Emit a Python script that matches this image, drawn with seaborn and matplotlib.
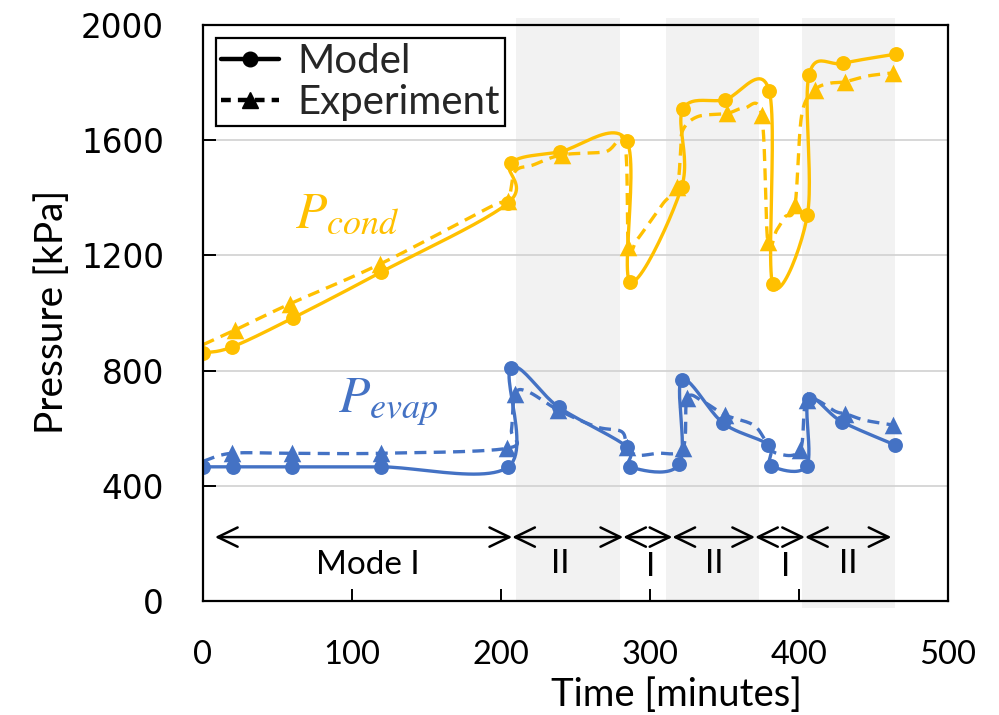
import numpy as np
import pandas as pd
import matplotlib
matplotlib.use("Agg")
import matplotlib.pyplot as plt
import seaborn as sns
from matplotlib.lines import Line2D

# ---------------- data ----------------
cond_model_t = [0, 19.5, 60.4, 119.5, 204.7, 206.5, 239.6, 284.4, 286.6, 321.3, 322, 350, 380, 382.3, 405.6, 406.7, 429.8, 464.9]
cond_model_p = [861, 882, 983, 1142, 1382, 1520, 1560, 1598, 1109, 1439, 1707, 1740, 1771, 1100, 1340, 1826, 1867, 1899]

evap_model_t = [0, 20, 59.5, 119.3, 205, 206.5, 239, 284.4, 286.6, 319.7, 321.3, 349.2, 379.4, 381.2, 405.2, 406.5, 428.6, 464.4]
evap_model_p = [466, 466, 466, 466, 466, 808, 672, 536, 466, 476, 767, 617, 542, 470, 470, 700, 623, 542]

cond_exp_t = [0, 21.5, 58.4, 118.8, 192.6, 204.5, 209.4, 221.5, 240.7, 270, 283, 285.5, 291, 300, 309, 318, 320.5, 322, 332,
              351.5, 363, 374.9, 379, 385, 390.6, 397.3, 401.8, 410.7, 420, 430.9, 446, 463.3]
cond_exp_p = [890, 941, 1032, 1170, 1368, 1390, 1491, 1514, 1549, 1560, 1590, 1230, 1253, 1317, 1382, 1439, 1556, 1635, 1682,
              1693, 1711, 1687, 1248, 1288, 1334, 1375, 1688, 1774, 1797, 1803, 1823, 1834]
cond_exp_marked = [1, 2, 3, 5, 8, 11, 15, 19, 21, 22, 25, 27, 29, 31]

evap_exp_t = [0, 19.2, 59.5, 119.3, 203.8, 207, 209.4, 218, 238.5, 264, 281, 284.4, 291, 304.5, 322, 325, 335.8, 350.3,
              369.4, 378, 385, 400.7, 405.6, 425, 430.9, 444, 463.3]
evap_exp_p = [485, 513, 513, 513, 530, 594, 718, 727, 663, 605, 588, 536, 507, 513, 530, 704, 692, 646,
              611, 553, 513, 524, 698, 657, 651, 628, 611]
evap_exp_marked = [1, 2, 3, 4, 6, 8, 11, 14, 15, 17, 21, 22, 24, 26]

mode_bands = [(210, 280), (311, 373), (402, 464.5)]
mode_arrows = [(8, 207.5), (207.5, 282), (282, 315), (315, 370.5), (370.5, 404), (404, 462)]
mode_labels = ["Mode I", "II", "I", "II", "I", "II"]
mode_label_t = [110.7, 239.6, 300.7, 343, 391, 433]
mode_label_p = [125, 127, 118, 127, 118, 130]

xticks = [0, 100, 200, 300, 400, 500]
yticks = [0, 400, 800, 1200, 1600, 2000]

COND = "#FFC000"
EVAP = "#4472C4"

# ---------------- style ----------------
sns.set_theme(style="white")
plt.rcParams["font.family"] = ["Lato", "DejaVu Sans"]
plt.rcParams["mathtext.fontset"] = "stix"

W, H, DPI = 9.99, 7.15, 100
L, R, B, T = 0.2032, 0.949, 0.1594, 0.965
fig = plt.figure(figsize=(W, H), dpi=DPI)
ax = fig.add_axes([L, B, R - L, T - B])
ax.set_xlim(0, 500)
ax.set_ylim(0, 2000)

# pixel scale factors for Excel-like smoothing
sx = W * DPI * (R - L) / 500.0
sy = H * DPI * (T - B) / 2000.0


def smooth(t, p, n=24):
    P = np.column_stack([np.asarray(t, float) * sx, np.asarray(p, float) * sy])
    E = np.vstack([P[0], P, P[-1]])
    segs = []
    for i in range(len(P) - 1):
        p0, p1, p2, p3 = E[i], E[i + 1], E[i + 2], E[i + 3]
        c1 = p1 + (p2 - p0) / 6.0
        c2 = p2 - (p3 - p1) / 6.0
        s = np.linspace(0, 1, n, endpoint=(i == len(P) - 2))[:, None]
        segs.append((1 - s) ** 3 * p1 + 3 * (1 - s) ** 2 * s * c1 + 3 * (1 - s) * s ** 2 * c2 + s ** 3 * p2)
    Q = np.vstack(segs)
    return pd.DataFrame({"t": Q[:, 0] / sx, "p": Q[:, 1] / sy})


# bands
for i, (a, b) in enumerate(mode_bands):
    ax.axvspan(a, b, ymin=(-0.012 if i == 2 else 0), ymax=1.012, color="#F2F2F2", zorder=0, lw=0, clip_on=False)

ax.set_axisbelow(True)
ax.yaxis.grid(True, color="#D4D4D4", lw=1.3)
ax.xaxis.grid(False)

LW = 2.4
dash = (0, (3.6, 2.2))

# experiment dashed lines
for t, p, c in [(cond_exp_t, cond_exp_p, COND), (evap_exp_t, evap_exp_p, EVAP)]:
    df = smooth(t, p)
    sns.lineplot(data=df, x="t", y="p", sort=False, estimator=None, color=c, lw=LW, linestyle=dash, ax=ax, zorder=3)

# model solid lines
for t, p, c in [(cond_model_t, cond_model_p, COND), (evap_model_t, evap_model_p, EVAP)]:
    df = smooth(t, p)
    sns.lineplot(data=df, x="t", y="p", sort=False, estimator=None, color=c, lw=LW, ax=ax, zorder=4)

# markers
for t, p, c in [(cond_model_t, cond_model_p, COND), (evap_model_t, evap_model_p, EVAP)]:
    sns.scatterplot(x=t, y=p, color=c, marker="o", s=115, linewidth=0, ax=ax, zorder=5)
for t, p, idx, c in [(cond_exp_t, cond_exp_p, cond_exp_marked, COND), (evap_exp_t, evap_exp_p, evap_exp_marked, EVAP)]:
    sns.scatterplot(x=[t[i] for i in idx], y=[p[i] for i in idx], color=c, marker="^", s=160, linewidth=0, ax=ax, zorder=6)

# mode arrows and labels
for (a, b) in mode_arrows:
    ax.annotate("", xy=(b, 222), xytext=(a, 222),
                arrowprops=dict(arrowstyle="<->,head_length=0.68,head_width=0.33", lw=1.8, color="black",
                                shrinkA=0, shrinkB=0, mutation_scale=21), zorder=7)
for lab, t, p in zip(mode_labels, mode_label_t, mode_label_p):
    ax.text(t, p, lab, ha="center", va="center", fontsize=24, family=["Lato"], color="black", zorder=7)

# series labels
ax.text(96.6, 1345, r"$P_{cond}$", color=COND, fontsize=37, ha="center", va="center", zorder=7)
ax.text(124, 690, r"$P_{evap}$", color=EVAP, fontsize=37, ha="center", va="center", zorder=7)

# axes styling
ax.set_xticks(xticks)
ax.set_yticks(yticks)
ax.set_xticklabels([str(v) for v in xticks], fontsize=23.5, family=["Lato"])
ax.set_yticklabels([str(v) for v in yticks], fontsize=23.5, family=["DejaVu Sans"])
ax.tick_params(axis="both", direction="in", length=9, width=1.4, color="black", pad=28, labelcolor="black")
ax.tick_params(axis="x", top=False, bottom=True)
ax.tick_params(axis="y", left=True, right=False)
for sp in ax.spines.values():
    sp.set_visible(True)
    sp.set_color("black")
    sp.set_linewidth(1.6)
    sp.set_zorder(8)

ax.set_xlabel("Time [minutes]", fontsize=27.5, family=["Lato"], color="black")
ax.set_ylabel("Pressure [kPa]", fontsize=28, family=["Lato"], color="black")
ax.xaxis.set_label_coords(0.635, -0.132)
ax.yaxis.set_label_coords(-0.178, 0.502)

handles = [Line2D([], [], color="black", lw=3.2, marker="o", ms=10.5),
           Line2D([], [], color="black", lw=3.2, marker="^", ms=12, linestyle=(0, (2.2, 1.6)))]
leg = ax.legend(handles, ["Model", "Experiment"], loc="upper left", bbox_to_anchor=(0.0175, 0.977),
                borderaxespad=0, fontsize=29, frameon=True, fancybox=False, framealpha=1,
                edgecolor="black", handlelength=1.45, handletextpad=0.45, labelspacing=0.1, borderpad=0.12)
leg.get_frame().set_linewidth(1.6)
leg.set_zorder(9)

fig.savefig("out.png", dpi=DPI)
